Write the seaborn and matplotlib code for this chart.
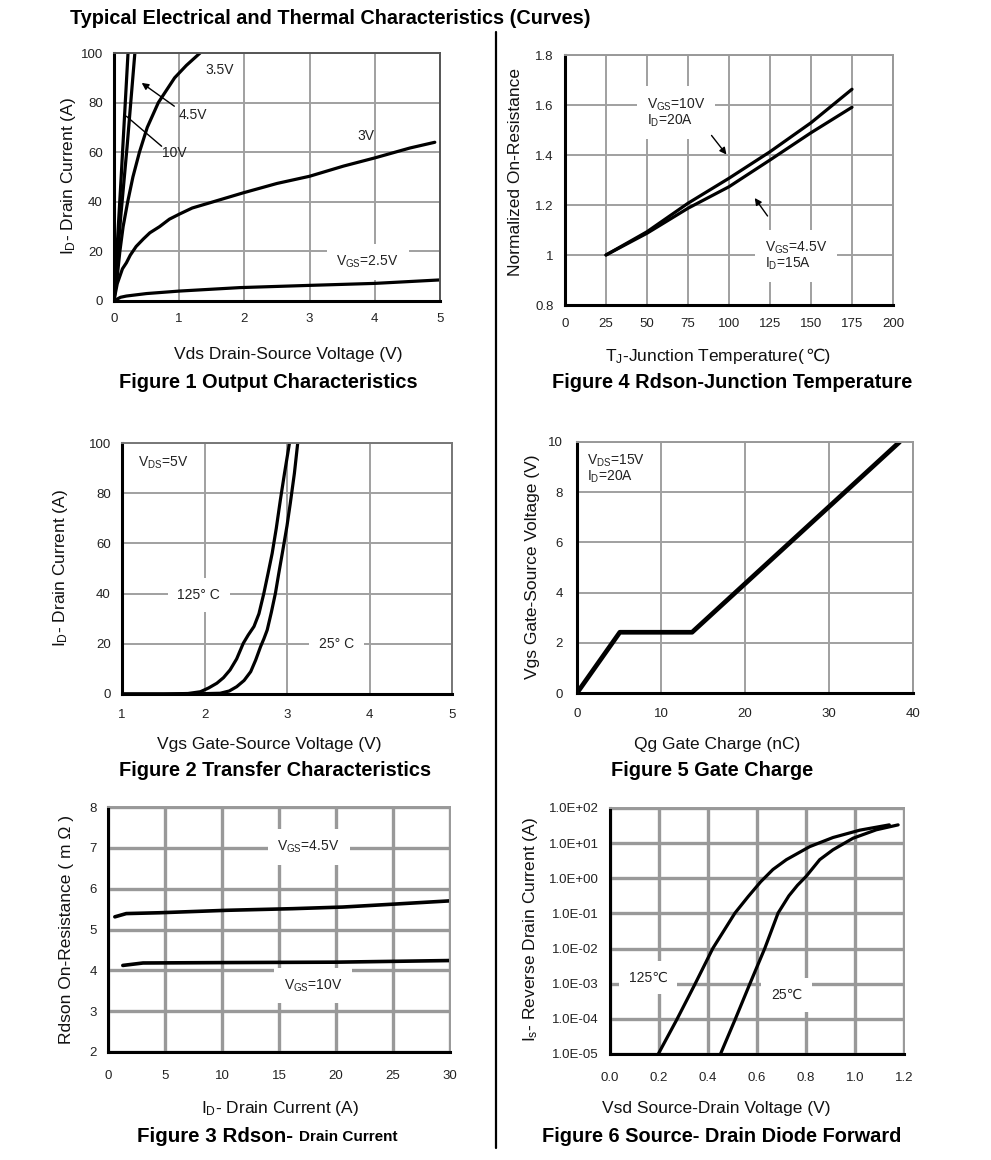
import numpy as np
import pandas as pd
import matplotlib.pyplot as plt
from matplotlib.ticker import FixedLocator, NullLocator
import seaborn as sns

# ---- data ----
# Figure 1 output characteristics (Vds, Id) for each Vgs
f1_vds_10 = [0, 0.11, 0.215]
f1_id_10 = [0, 50, 100]
f1_vds_45 = [0, 0.1, 0.2, 0.32]
f1_id_45 = [0, 33, 62, 100]
f1_vds_35 = [0, 0.02, 0.05, 0.09, 0.14, 0.21, 0.29, 0.39, 0.51, 0.68, 0.93, 1.11, 1.32]
f1_id_35 = [0, 5, 10, 20, 30, 40, 50, 60, 70, 80, 90, 95, 100]
f1_vds_3 = [0, 0.02, 0.05, 0.09, 0.13, 0.19, 0.25, 0.34, 0.45, 0.55, 0.7, 0.85, 1.0,
            1.2, 1.47, 1.98, 2.5, 3.0, 3.52, 4.0, 4.54, 4.92]
f1_id_3 = [0, 3, 7, 10, 13, 15.4, 18.5, 22, 25, 27.5, 30, 33, 35,
           37.5, 39.6, 43.6, 47.4, 50.3, 54.4, 57.7, 61.7, 64]
f1_vds_25 = [0, 0.05, 0.1, 0.19, 0.5, 0.7, 1.0, 1.93, 3.0, 4.0, 5.0]
f1_id_25 = [0, 0.8, 1.5, 2.0, 3.0, 3.4, 4.0, 5.4, 6.3, 7.1, 8.5]

# Figure 4 normalized Rdson vs Tj
f4_tj = [25, 50, 75, 100, 125, 150, 175]
f4_r_10v = [1.0, 1.093, 1.207, 1.307, 1.413, 1.529, 1.663]
f4_r_45v = [1.0, 1.087, 1.187, 1.273, 1.38, 1.489, 1.591]

# Figure 2 transfer characteristics
f2_vgs_125 = [1.0, 1.5, 1.8, 1.95, 2.05, 2.15, 2.23, 2.31, 2.39, 2.47, 2.53, 2.6, 2.66,
              2.72, 2.77, 2.82, 2.87, 2.92, 2.97, 3.03]
f2_id_125 = [0, 0, 0.2, 0.9, 2.4, 4.3, 6.5, 9.6, 14, 20.2, 23.5, 26.9, 32,
             40.2, 48, 56, 66, 77.4, 88, 100]
f2_vgs_25 = [1.0, 1.8, 2.19, 2.3, 2.39, 2.48, 2.56, 2.62, 2.68, 2.72, 2.76, 2.81, 2.86,
             2.9, 2.95, 3.0, 3.04, 3.09, 3.13]
f2_id_25 = [0, 0, 0.3, 1.2, 2.9, 5.4, 8.9, 13.5, 18.9, 22, 25.5, 32.5, 40.2,
            48, 57.4, 67, 76, 88, 100]

# Figure 5 gate charge
f5_qg = [0, 5.1, 13.7, 38.4]
f5_vgs = [0, 2.42, 2.42, 10]

# Figure 3 Rdson vs drain current
f3_id_45 = [0.6, 1.6, 4.5, 10.4, 16.2, 20.6, 25, 29.9]
f3_r_45 = [5.31, 5.39, 5.41, 5.47, 5.51, 5.55, 5.62, 5.70]
f3_id_10 = [1.3, 3.07, 10.4, 20, 25, 30]
f3_r_10 = [4.12, 4.18, 4.19, 4.20, 4.22, 4.24]

# Figure 6 body diode forward (Vsd, log10 Is)
f6_vsd_125 = [0.197, 0.272, 0.347, 0.42, 0.51, 0.564, 0.615, 0.665, 0.72, 0.815,
              0.91, 1.02, 1.14]
f6_log_125 = [-5, -4.03, -3.01, -1.99, -0.99, -0.52, -0.1, 0.25, 0.53, 0.90,
              1.16, 1.37, 1.52]
f6_vsd_25 = [0.451, 0.51, 0.571, 0.632, 0.686, 0.73, 0.765, 0.80, 0.856, 0.91,
             0.992, 1.087, 1.176]
f6_log_25 = [-5, -4.03, -3.0, -1.99, -0.99, -0.5, -0.2, 0.05, 0.53, 0.81,
             1.14, 1.38, 1.52]

f6_ytick_labels = ['1.0E-05', '1.0E-04', '1.0E-03', '1.0E-02', '1.0E-01',
                   '1.0E+00', '1.0E+01', '1.0E+02']

sns.set_style('whitegrid')
plt.rcParams['font.family'] = ['Liberation Sans', 'DejaVu Sans']
plt.rcParams['mathtext.fontset'] = 'custom'
plt.rcParams['mathtext.rm'] = 'Liberation Sans'
plt.rcParams['mathtext.default'] = 'regular'

W, H = 991, 1160
fig = plt.figure(figsize=(W / 100, H / 100), dpi=100)


def px_axes(l, t, r, b):
    return fig.add_axes([l / W, 1 - b / H, (r - l) / W, (b - t) / H])


def px_text(x, y, s, **kw):
    fig.text(x / W, 1 - y / H, s, **kw)


def style_axes(ax, grid_lw, side_color, ypad=8, xpad=9, grid_color='#a0a0a0'):
    ax.set_facecolor('white')
    ax.grid(True, color=grid_color, linewidth=grid_lw)
    ax.set_axisbelow(True)
    for s in ['left', 'bottom']:
        ax.spines[s].set_color('black')
        ax.spines[s].set_linewidth(2.2)
    for s in ['top', 'right']:
        ax.spines[s].set_color(side_color)
        ax.spines[s].set_linewidth(1.4)
    ax.tick_params(axis='both', length=0, labelsize=9.5, colors='#222222')
    ax.tick_params(axis='y', pad=ypad)
    ax.tick_params(axis='x', pad=xpad)
    ax.set_xlabel('')
    ax.set_ylabel('')


def curve(ax, x, y, lw=2.3):
    sns.lineplot(x=x, y=y, ax=ax, color='black', linewidth=lw,
                 sort=False, estimator=None)


box = dict(facecolor='white', edgecolor='none', boxstyle='square,pad=0.7')
ann = 10

# ---------------- Figure 1 ----------------
ax1 = px_axes(114, 53, 440, 301)
for x, y in [(f1_vds_10, f1_id_10), (f1_vds_45, f1_id_45), (f1_vds_35, f1_id_35),
             (f1_vds_3, f1_id_3), (f1_vds_25, f1_id_25)]:
    curve(ax1, x, y)
ax1.set_xlim(0, 5)
ax1.set_ylim(0, 100)
ax1.set_xticks(range(0, 6))
ax1.set_yticks(range(0, 101, 20))
style_axes(ax1, 1.4, '#555555')
ax1.text(1.62, 93.3, '3.5V', fontsize=ann, ha='center', va='center', color='#222222')
ax1.text(1.21, 75, '4.5V', fontsize=ann, ha='center', va='center', color='#222222')
ax1.annotate('', xy=(0.39, 88.6), xytext=(0.96, 77.9),
             arrowprops=dict(arrowstyle='-|>', color='black', lw=1.0, mutation_scale=10))
ax1.text(0.93, 59.5, '10V', fontsize=ann, ha='center', va='center', color='#222222')
ax1.plot([0.73, 0.19], [62.4, 74.5], color='black', lw=1.0)
ax1.text(3.87, 66.7, '3V', fontsize=ann, ha='center', va='center', color='#222222')
ax1.text(3.89, 15.8, 'V$_{GS}$=2.5V', fontsize=ann, ha='center', va='center',
         color='#222222', bbox=box)

# ---------------- Figure 4 ----------------
ax4 = px_axes(565, 55, 893, 305)
curve(ax4, f4_tj, f4_r_10v)
curve(ax4, f4_tj, f4_r_45v)
ax4.set_xlim(0, 200)
ax4.set_ylim(0.8, 1.8)
ax4.set_xticks(range(0, 201, 25))
ax4.yaxis.set_major_locator(FixedLocator([0.8, 1.0, 1.2, 1.4, 1.6, 1.8]))
ax4.set_yticklabels(['0.8', '1', '1.2', '1.4', '1.6', '1.8'])
style_axes(ax4, 1.4, '#999999')
ax4.text(49.7, 1.57, 'V$_{GS}$=10V\nI$_{D}$=20A', fontsize=ann, ha='left', va='center',
         color='#222222', linespacing=1.0, bbox=box)
ax4.annotate('', xy=(99.5, 1.393), xytext=(88.3, 1.487),
             arrowprops=dict(arrowstyle='-|>', color='black', lw=1.0, mutation_scale=10))
ax4.text(121.8, 0.997, 'V$_{GS}$=4.5V\nI$_{D}$=15A', fontsize=ann, ha='left', va='center',
         color='#222222', linespacing=1.0, bbox=box)
ax4.annotate('', xy=(114.7, 1.237), xytext=(124.5, 1.147),
             arrowprops=dict(arrowstyle='-|>', color='black', lw=1.0, mutation_scale=10))

# ---------------- Figure 2 ----------------
ax2 = px_axes(122, 443, 452, 694)
curve(ax2, f2_vgs_125, f2_id_125)
curve(ax2, f2_vgs_25, f2_id_25)
ax2.set_xlim(1, 5)
ax2.set_ylim(0, 100)
ax2.set_xticks(range(1, 6))
ax2.set_yticks(range(0, 101, 20))
style_axes(ax2, 1.4, '#777777', xpad=11)
ax2.text(1.2, 92, 'V$_{DS}$=5V', fontsize=ann, ha='left', va='center', color='#222222')
ax2.text(1.93, 39.5, '125° C', fontsize=ann, ha='center', va='center', color='#222222', bbox=box)
ax2.text(3.6, 20, '25° C', fontsize=ann, ha='center', va='center', color='#222222', bbox=box)

# ---------------- Figure 5 ----------------
ax5 = px_axes(577, 442, 913, 693)
curve(ax5, f5_qg, f5_vgs, lw=3.4)
ax5.set_xlim(0, 40)
ax5.set_ylim(0, 10)
ax5.set_xticks(range(0, 41, 10))
ax5.set_yticks(range(0, 11, 2))
style_axes(ax5, 1.4, '#999999', ypad=10, xpad=11)
ax5.text(1.2, 8.93, 'V$_{DS}$=15V\nI$_{D}$=20A', fontsize=ann, ha='left', va='center',
         color='#222222', linespacing=1.0)

# ---------------- Figure 3 ----------------
ax3 = px_axes(108, 807, 450, 1052)
curve(ax3, f3_id_45, f3_r_45, lw=2.6)
curve(ax3, f3_id_10, f3_r_10, lw=2.6)
ax3.set_xlim(0, 30)
ax3.set_ylim(2, 8)
ax3.set_xticks(range(0, 31, 5))
ax3.set_yticks(range(2, 9))
style_axes(ax3, 2.4, '#999999', ypad=8, xpad=13, grid_color='#999999')
ax3.text(17.6, 7.02, 'V$_{GS}$=4.5V', fontsize=ann, ha='center', va='center',
         color='#222222', bbox=box)
ax3.text(18.0, 3.63, 'V$_{GS}$=10V', fontsize=ann, ha='center', va='center',
         color='#222222', bbox=box)

# ---------------- Figure 6 ----------------
ax6 = px_axes(610, 808, 904, 1054)
curve(ax6, f6_vsd_125, [10 ** v for v in f6_log_125])
curve(ax6, f6_vsd_25, [10 ** v for v in f6_log_25])
ax6.set_yscale('log')
ax6.set_xlim(0, 1.2)
ax6.set_ylim(1e-5, 1e2)
ax6.set_xticks(np.arange(0, 1.21, 0.2))
ax6.set_xticklabels(['0.0', '0.2', '0.4', '0.6', '0.8', '1.0', '1.2'])
ax6.yaxis.set_major_locator(FixedLocator([10.0 ** k for k in range(-5, 3)]))
ax6.yaxis.set_minor_locator(NullLocator())
ax6.set_yticklabels(f6_ytick_labels)
style_axes(ax6, 2.4, '#999999', ypad=8, xpad=13, grid_color='#999999')
ax6.text(0.156, 10 ** -2.82, '125℃', fontsize=ann, ha='center', va='center',
         color='#222222', bbox=box)
ax6.text(0.72, 10 ** -3.32, '25℃', fontsize=ann, ha='center', va='center',
         color='#222222', bbox=box)

# ---------------- labels, captions, title ----------------
lab = dict(fontsize=12.5, ha='center', va='center', color='#111111')
px_text(288, 355, 'Vds Drain-Source Voltage (V)', **lab)
px_text(68, 176, 'I$_{D}$- Drain Current (A)', rotation=90, **lab)
px_text(805, 356, 'T$_{J}$-Junction Temperature(', fontsize=12.5, ha='right',
        va='center', color='#111111')
px_text(805, 356, '℃)', fontsize=12.5, ha='left', va='center', color='#111111')
px_text(515, 172, 'Normalized On-Resistance', rotation=90, **lab)
px_text(269, 745, 'Vgs Gate-Source Voltage (V)', **lab)
px_text(60, 568, 'I$_{D}$- Drain Current (A)', rotation=90, **lab)
px_text(717, 745, 'Qg Gate Charge (nC)', **lab)
px_text(533, 567, 'Vgs Gate-Source Voltage (V)', rotation=90, **lab)
px_text(280, 1109, 'I$_{D}$- Drain Current (A)', **lab)
px_text(67, 930, 'Rdson On-Resistance ( m Ω )', rotation=90, **lab)
px_text(716, 1109, 'Vsd Source-Drain Voltage (V)', **lab)
px_text(530, 930, 'I$_{s}$- Reverse Drain Current (A)', rotation=90, **lab)

cap = dict(fontsize=14.4, fontweight='bold', ha='center', va='center', color='black')
px_text(268, 382, 'Figure 1 Output Characteristics', **cap)
px_text(732, 382, 'Figure 4 Rdson-Junction Temperature', **cap)
px_text(275, 771, 'Figure 2 Transfer Characteristics', **cap)
px_text(712, 771, 'Figure 5 Gate Charge', **cap)
px_text(293, 1136, 'Figure 3 Rdson-', fontsize=14.8, fontweight='bold', ha='right',
        va='center', color='black')
px_text(299, 1137, 'Drain Current', fontsize=11, fontweight='bold', ha='left',
        va='center', color='black')
px_text(722, 1136, 'Figure 6 Source- Drain Diode Forward', **cap)

px_text(70, 18, 'Typical Electrical and Thermal Characteristics (Curves)',
        fontsize=14.3, fontweight='bold', ha='left', va='center', color='black')

# vertical divider between the two columns
fig.add_artist(plt.Line2D([496 / W, 496 / W], [1 - 32 / H, 1 - 1148 / H],
                          color='black', linewidth=1.6))

fig.savefig('out.png', dpi=100, facecolor='white')
